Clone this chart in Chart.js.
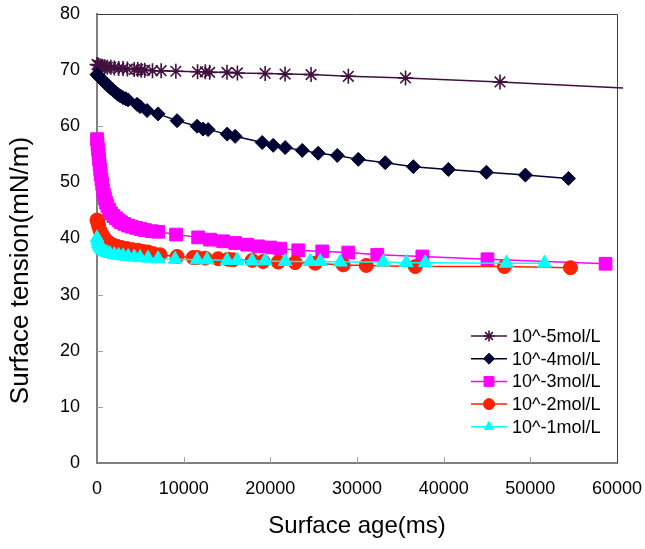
<!DOCTYPE html>
<html>
<head>
<meta charset="utf-8">
<script src="https://cdn.jsdelivr.net/npm/chart.js@4.4.1/dist/chart.umd.min.js"></script>
<style>
    html, body { margin: 0; padding: 0; background: #ffffff; }
    canvas { display: block; }
</style>
</head>
<body>
<canvas id="graficoTensao" width="645" height="549"></canvas>
<script>
const ageTicks = [0, 10000, 20000, 30000, 40000, 50000, 60000];
const tensionTicks = [0, 10, 20, 30, 40, 50, 60, 70, 80];
const seriesNames = ["10^-5mol/L", "10^-4mol/L", "10^-3mol/L", "10^-2mol/L", "10^-1mol/L"];

// 10^-5 mol/L (last point only carries the line past the frame)
const age5 = [0, 150, 350, 600, 900, 1200, 1600, 2000, 2500, 3000, 3500, 4300, 4700, 5100, 5500, 6400, 7400, 9100, 11600, 12500, 13000, 15000, 16200, 19400, 21700, 24700, 29000, 35600, 46500, 60700];
const tension5 = [71.0, 70.9, 70.8, 70.7, 70.6, 70.5, 70.5, 70.4, 70.3, 70.3, 70.2, 70.1, 70.1, 70.0, 70.0, 69.9, 69.9, 69.8, 69.7, 69.7, 69.6, 69.6, 69.5, 69.4, 69.3, 69.2, 68.9, 68.6, 67.9, 66.8];

// 10^-4 mol/L
const age4 = [0, 150, 300, 500, 700, 900, 1100, 1300, 1500, 1800, 2100, 2400, 2700, 3000, 3300, 3580, 4620, 4970, 5780, 7050, 9240, 11550, 12240, 12820, 15020, 15940, 19060, 20330, 21710, 23680, 25520, 27720, 30150, 33260, 36500, 40540, 44930, 49430, 54400];
const tension4 = [69.2, 69.0, 68.7, 68.4, 68.1, 67.8, 67.5, 67.2, 66.9, 66.5, 66.1, 65.7, 65.4, 65.1, 64.9, 64.7, 63.9, 63.5, 62.8, 62.2, 61.0, 60.0, 59.5, 59.4, 58.6, 58.2, 57.1, 56.6, 56.2, 55.7, 55.2, 54.8, 54.1, 53.5, 52.8, 52.3, 51.8, 51.3, 50.7];

// 10^-3 mol/L
const age3 = [0, 60, 120, 180, 240, 300, 370, 440, 520, 600, 690, 800, 920, 1040, 1200, 1400, 1620, 1900, 2200, 2500, 2770, 3150, 3580, 4000, 4500, 5000, 5540, 6300, 7050, 9120, 11670, 13050, 14550, 15940, 17330, 18600, 19980, 21140, 23220, 25990, 28990, 32340, 37540, 45050, 58680];
const tension3 = [57.7, 56.8, 55.9, 55.0, 54.1, 53.2, 52.3, 51.4, 50.5, 49.7, 48.6, 47.8, 47.1, 46.4, 45.8, 45.1, 44.5, 44.0, 43.6, 43.2, 42.9, 42.6, 42.3, 42.1, 41.9, 41.7, 41.5, 41.3, 41.2, 40.7, 40.2, 39.8, 39.5, 39.2, 38.9, 38.6, 38.4, 38.2, 37.9, 37.7, 37.5, 37.1, 36.8, 36.3, 35.5];

// 10^-2 mol/L
const age2 = [0, 100, 200, 350, 500, 700, 900, 1160, 1500, 1900, 2310, 2800, 3470, 4100, 4740, 5300, 5890, 6500, 7280, 9240, 11090, 11550, 12470, 13980, 15130, 15710, 17900, 19170, 20910, 22870, 25180, 28410, 31070, 36730, 47010, 54630];
const tension2 = [43.3, 42.8, 42.2, 41.4, 40.9, 40.4, 39.9, 39.5, 39.1, 38.8, 38.6, 38.4, 38.2, 38.0, 37.9, 37.7, 37.6, 37.3, 37.1, 36.8, 36.6, 36.6, 36.5, 36.4, 36.3, 36.2, 36.1, 35.9, 35.8, 35.7, 35.6, 35.3, 35.2, 35.0, 35.0, 34.8];

// 10^-1 mol/L
const age1 = [0, 80, 160, 250, 400, 600, 850, 1150, 1500, 2000, 2500, 3000, 3600, 4300, 4970, 5890, 7050, 9010, 11550, 12700, 15020, 16170, 17900, 19400, 21710, 24600, 25760, 28070, 33030, 35690, 37880, 47240, 51630];
const tension1 = [40.1, 39.6, 39.1, 38.7, 38.3, 38.0, 37.7, 37.5, 37.3, 37.1, 37.0, 36.9, 36.8, 36.7, 36.6, 36.5, 36.4, 36.3, 36.2, 36.2, 36.1, 36.1, 36.0, 36.0, 35.9, 35.9, 35.9, 35.8, 35.8, 35.7, 35.7, 35.6, 35.6];

const fonte = "'Liberation Sans', Arial, sans-serif";

function toPoints(xs, ys) {
    return xs.map(function (x, i) {
        return { x: x, y: ys[i] };
    });
}

function makeSeries(name, xs, ys, color, style, radius, order) {
    return {
        label: name,
        data: toPoints(xs, ys),
        borderColor: color,
        backgroundColor: color,
        pointBackgroundColor: color,
        pointBorderColor: color,
        borderWidth: 1.5,
        pointStyle: style,
        pointRadius: radius,
        pointBorderWidth: style === "star" ? 1.6 : 1,
        tension: 0,
        clip: false,
        order: order
    };
}

const serie5 = makeSeries(seriesNames[0], age5, tension5, "#42103f", "star", function (ctx) {
    return ctx.dataIndex === age5.length - 1 ? 0 : 7.5;
}, 4);
const serie4 = makeSeries(seriesNames[1], age4, tension4, "#000033", "rectRot", 7, 3);
const serie3 = makeSeries(seriesNames[2], age3, tension3, "#ff00ff", "rect", 9, 2);
const serie2 = makeSeries(seriesNames[3], age2, tension2, "#ff2200", "circle", 7, 1);
const serie1 = makeSeries(seriesNames[4], age1, tension1, "#00ffff", "triangle", 8, 0);

const moldura = {
    id: "moldura",
    beforeDatasetsDraw: function (chart) {
        const ctx = chart.ctx;
        const area = chart.chartArea;
        const escalaX = chart.scales.x;
        const escalaY = chart.scales.y;

        ctx.save();
        ctx.strokeStyle = "#404040";
        ctx.lineWidth = 1;
        ctx.beginPath();
        ctx.moveTo(area.left, area.top + 0.5);
        ctx.lineTo(area.right + 0.5, area.top + 0.5);
        ctx.lineTo(area.right + 0.5, area.bottom);
        ctx.stroke();

        ctx.strokeStyle = "#a0a0a0";
        ctx.beginPath();
        tensionTicks.forEach(function (v) {
            if (v === tensionTicks[0] || v === tensionTicks[tensionTicks.length - 1]) {
                return;
            }
            const y = Math.round(escalaY.getPixelForValue(v)) + 0.5;
            ctx.moveTo(area.left, y);
            ctx.lineTo(area.left + 6, y);
        });
        ageTicks.forEach(function (v) {
            if (v === ageTicks[0] || v === ageTicks[ageTicks.length - 1]) {
                return;
            }
            const x = Math.round(escalaX.getPixelForValue(v)) + 0.5;
            ctx.moveTo(x, area.bottom);
            ctx.lineTo(x, area.bottom - 6);
        });
        ctx.stroke();

        // y axis title
        ctx.fillStyle = "#000000";
        ctx.font = "26px " + fonte;
        ctx.textAlign = "center";
        ctx.textBaseline = "middle";
        ctx.translate(21, (area.top + area.bottom) / 2 + 32);
        ctx.rotate(-Math.PI / 2);
        ctx.fillText("Surface tension(mN/m)", 0, 0);
        ctx.restore();
    }
};

const legenda = {
    id: "legenda",
    afterDraw: function (chart) {
        const ctx = chart.ctx;
        const area = chart.chartArea;
        const x0 = area.right - 146;
        const y0 = area.bottom - 127;

        ctx.save();
        chart.data.datasets.forEach(function (ds, i) {
            const y = y0 + i * 22.7;
            ctx.strokeStyle = ds.borderColor;
            ctx.lineWidth = 1.5;
            ctx.beginPath();
            ctx.moveTo(x0, y);
            ctx.lineTo(x0 + 36, y);
            ctx.stroke();

            ctx.fillStyle = ds.pointBackgroundColor;
            ctx.strokeStyle = ds.pointBorderColor;
            ctx.lineWidth = ds.pointBorderWidth;
            Chart.helpers.drawPoint(ctx, {
                pointStyle: ds.pointStyle,
                radius: ds.pointStyle === "rect" ? 7 : 5.5,
                rotation: 0,
                borderWidth: ds.pointBorderWidth
            }, x0 + 18, y);

            ctx.fillStyle = "#000000";
            ctx.font = "18px " + fonte;
            ctx.textAlign = "left";
            ctx.textBaseline = "middle";
            ctx.fillText(ds.label, x0 + 41, y + 1);
        });
        ctx.restore();
    }
};

new Chart(document.getElementById("graficoTensao"), {
    type: "line",
    data: {
        datasets: [serie5, serie4, serie3, serie2, serie1]
    },
    options: {
        responsive: false,
        animation: false,
        layout: {
            padding: { left: 0, top: 14, right: 28, bottom: 0 }
        },
        plugins: {
            legend: { display: false },
            tooltip: { enabled: false }
        },
        scales: {
            x: {
                type: "linear",
                min: ageTicks[0],
                max: ageTicks[ageTicks.length - 1],
                afterBuildTicks: function (scale) {
                    scale.ticks = ageTicks.map(function (v) { return { value: v }; });
                },
                afterFit: function (scale) {
                    scale.height = 86;
                    scale.paddingLeft = 0;
                    scale.paddingRight = 0;
                },
                grid: { display: false, drawTicks: false },
                border: { display: true, color: "#808080", width: 2 },
                ticks: {
                    color: "#000000",
                    font: { family: fonte, size: 18 },
                    padding: 15,
                    maxRotation: 0,
                    callback: function (v) { return String(v); }
                },
                title: {
                    display: true,
                    text: "Surface age(ms)",
                    color: "#000000",
                    font: { family: fonte, size: 24 },
                    padding: { top: 0, bottom: 8 }
                }
            },
            y: {
                type: "linear",
                min: tensionTicks[0],
                max: tensionTicks[tensionTicks.length - 1],
                afterBuildTicks: function (scale) {
                    scale.ticks = tensionTicks.map(function (v) { return { value: v }; });
                },
                afterFit: function (scale) {
                    scale.width = 97;
                    scale.paddingTop = 0;
                    scale.paddingBottom = 0;
                },
                grid: { display: false, drawTicks: false },
                border: { display: true, color: "#808080", width: 2 },
                ticks: {
                    color: "#000000",
                    font: { family: fonte, size: 18 },
                    padding: 17
                }
            }
        }
    },
    plugins: [moldura, legenda]
});
</script>
</body>
</html>
